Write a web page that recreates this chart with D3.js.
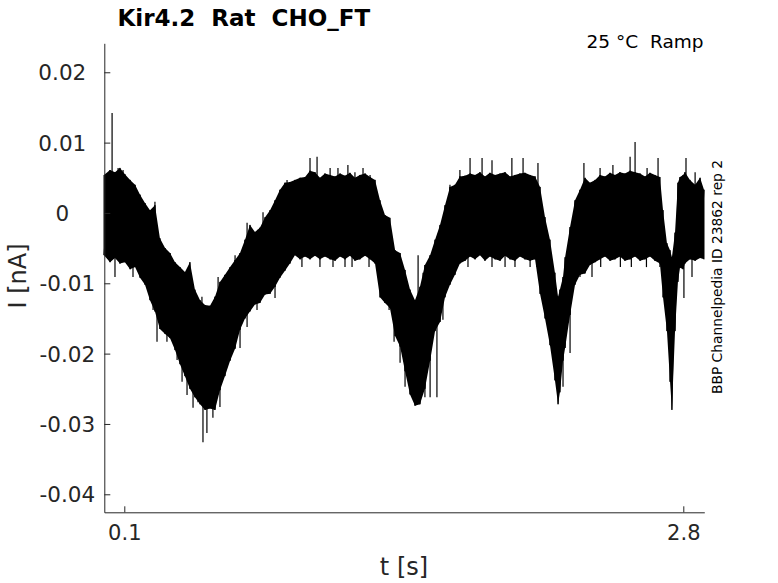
<!DOCTYPE html>
<html>
<head>
<meta charset="utf-8">
<script src="https://cdn.jsdelivr.net/npm/d3@7"></script>
<style>
  body { margin: 0; background: #fff; }
  text { font-family: "DejaVu Sans", sans-serif; fill: #262626; white-space: pre; }
</style>
</head>
<body>
<div id="vis"></div>
<script>
// trace: envelope of the noisy current (nA) against time (s)
var time = [0.002, 0.031, 0.055, 0.079, 0.103, 0.128, 0.152, 0.176, 0.200, 0.224,
  0.248, 0.272, 0.297, 0.321, 0.345, 0.369, 0.393, 0.417, 0.441, 0.466,
  0.490, 0.514, 0.538, 0.562, 0.586, 0.611, 0.635, 0.659, 0.683, 0.707,
  0.731, 0.755, 0.780, 0.804, 0.828, 0.852, 0.876, 0.900, 0.924, 0.949,
  0.973, 0.997, 1.021, 1.045, 1.069, 1.094, 1.118, 1.142, 1.166, 1.190,
  1.214, 1.238, 1.263, 1.287, 1.311, 1.335, 1.359, 1.383, 1.408, 1.432,
  1.456, 1.480, 1.504, 1.528, 1.552, 1.577, 1.601, 1.625, 1.649, 1.673,
  1.697, 1.721, 1.746, 1.770, 1.794, 1.818, 1.842, 1.866, 1.891, 1.915,
  1.939, 1.963, 1.987, 2.011, 2.035, 2.060, 2.084, 2.108, 2.132, 2.156,
  2.180, 2.195, 2.204, 2.219, 2.229, 2.253, 2.277, 2.301, 2.325, 2.349,
  2.374, 2.398, 2.422, 2.446, 2.470, 2.494, 2.518, 2.543, 2.567, 2.591,
  2.615, 2.639, 2.663, 2.687, 2.702, 2.721, 2.736, 2.745, 2.760, 2.774,
  2.784, 2.799, 2.808, 2.832, 2.857, 2.881, 2.900];

var upper = [0.0054, 0.0061, 0.0058, 0.0064, 0.0055, 0.0047, 0.0040, 0.0026, 0.0014, 0.0004,
  0.0011, -0.0036, -0.0050, -0.0057, -0.0070, -0.0077, -0.0084, -0.0070, -0.0109, -0.0124,
  -0.0131, -0.0132, -0.0119, -0.0098, -0.0088, -0.0077, -0.0067, -0.0057, -0.0038, -0.0017,
  -0.0027, -0.0021, -0.0006, 0.0004, 0.0018, 0.0033, 0.0043, 0.0044, 0.0047, 0.0050,
  0.0051, 0.0060, 0.0058, 0.0050, 0.0056, 0.0054, 0.0052, 0.0056, 0.0053, 0.0057,
  0.0050, 0.0054, 0.0056, 0.0051, 0.0047, 0.0018, -0.0003, -0.0007, -0.0053, -0.0057,
  -0.0081, -0.0109, -0.0124, -0.0105, -0.0074, -0.0060, -0.0038, -0.0017, 0.0011, 0.0037,
  0.0040, 0.0052, 0.0053, 0.0056, 0.0054, 0.0058, 0.0052, 0.0057, 0.0054, 0.0056,
  0.0058, 0.0052, 0.0054, 0.0056, 0.0057, 0.0054, 0.0052, 0.0037, -0.0006, -0.0038,
  -0.0085, -0.0119, -0.0109, -0.0091, -0.0063, -0.0020, 0.0018, 0.0033, 0.0050, 0.0043,
  0.0047, 0.0054, 0.0052, 0.0057, 0.0054, 0.0058, 0.0056, 0.0060, 0.0058, 0.0056,
  0.0052, 0.0057, 0.0054, 0.0051, 0.0004, -0.0043, -0.0053, -0.0063, -0.0028, 0.0043,
  0.0051, 0.0054, 0.0058, 0.0047, 0.0040, 0.0050, 0.0033];

var lower = [-0.0060, -0.0070, -0.0064, -0.0072, -0.0070, -0.0080, -0.0077, -0.0092, -0.0102, -0.0124,
  -0.0140, -0.0165, -0.0172, -0.0178, -0.0195, -0.0215, -0.0232, -0.0250, -0.0262, -0.0272,
  -0.0280, -0.0278, -0.0280, -0.0252, -0.0232, -0.0210, -0.0193, -0.0166, -0.0150, -0.0140,
  -0.0130, -0.0128, -0.0116, -0.0115, -0.0105, -0.0092, -0.0082, -0.0072, -0.0060, -0.0066,
  -0.0062, -0.0066, -0.0061, -0.0066, -0.0062, -0.0066, -0.0068, -0.0062, -0.0066, -0.0061,
  -0.0068, -0.0066, -0.0061, -0.0066, -0.0072, -0.0120, -0.0128, -0.0135, -0.0175, -0.0190,
  -0.0225, -0.0258, -0.0274, -0.0272, -0.0250, -0.0210, -0.0168, -0.0155, -0.0120, -0.0102,
  -0.0088, -0.0072, -0.0068, -0.0062, -0.0066, -0.0060, -0.0068, -0.0062, -0.0066, -0.0068,
  -0.0061, -0.0066, -0.0068, -0.0062, -0.0066, -0.0068, -0.0066, -0.0115, -0.0150, -0.0188,
  -0.0238, -0.0272, -0.0255, -0.0210, -0.0192, -0.0145, -0.0102, -0.0088, -0.0086, -0.0074,
  -0.0070, -0.0066, -0.0062, -0.0068, -0.0066, -0.0062, -0.0068, -0.0066, -0.0062, -0.0068,
  -0.0066, -0.0062, -0.0068, -0.0072, -0.0120, -0.0168, -0.0240, -0.0280, -0.0168, -0.0098,
  -0.0078, -0.0080, -0.0072, -0.0066, -0.0068, -0.0064, -0.0066];

// single samples that stick out of the band
var spikeTime = [0.041, 0.480, 1.519, 1.577, 2.567,
  0.070, 0.094, 0.118, 0.142, 0.171, 0.210, 0.248, 0.055, 0.142, 0.239,
  0.258, 0.306, 0.355, 0.379, 0.403, 0.432, 0.456, 0.499, 0.528, 0.562,
  0.475, 0.553, 0.586, 0.635, 0.693, 0.746, 0.659, 0.693, 0.770, 0.828,
  0.741, 0.886, 0.997, 1.031, 1.094, 1.132, 1.180, 1.214, 1.253, 1.287,
  0.958, 1.045, 1.108, 1.166, 1.200, 1.282, 1.330, 1.379, 1.403, 1.432,
  1.456, 1.528, 1.610, 1.552, 1.639, 1.683, 1.543, 1.673, 1.721, 1.770,
  1.828, 1.876, 1.972, 2.026, 2.098, 1.760, 1.876, 1.939, 1.987, 2.060,
  2.093, 2.320, 2.398, 2.460, 2.543, 2.625, 2.678, 2.813, 2.857, 2.301,
  2.359, 2.401, 2.496, 2.549, 2.622, 2.687, 2.803, 2.842, 2.253, 2.219];
var spikeValue = [0.0142, -0.0326, -0.0060, -0.0262, 0.0101,
  0.0064, 0.0061, 0.0047, 0.0037, 0.0021, 0.0007, 0.0016, -0.0091, -0.0091, -0.0138,
  -0.0183, -0.0183, -0.0209, -0.0240, -0.0259, -0.0277, -0.0269, -0.0313, -0.0291, -0.0276,
  -0.0119, -0.0091, -0.0091, -0.0060, -0.0014, -0.0024, -0.0192, -0.0162, 0.0001, -0.0121,
  -0.0138, 0.0047, 0.0078, 0.0080, 0.0064, 0.0064, 0.0068, 0.0058, 0.0064, 0.0054,
  -0.0077, -0.0077, -0.0077, -0.0077, -0.0077, -0.0077, -0.0077, -0.0138, -0.0183, -0.0213,
  -0.0247, -0.0262, -0.0262, -0.0262, -0.0152, -0.0091, -0.0085, 0.0040, 0.0061, 0.0078,
  0.0078, 0.0075, 0.0078, 0.0078, 0.0071, -0.0077, -0.0077, -0.0077, -0.0077, -0.0077,
  -0.0077, 0.0071, 0.0064, 0.0068, 0.0080, 0.0064, 0.0078, 0.0078, 0.0058, -0.0091,
  -0.0091, -0.0077, -0.0077, -0.0077, -0.0077, -0.0077, -0.0121, -0.0091, -0.0199, -0.0247];

var yTicks = [0.02, 0.01, 0, -0.01, -0.02, -0.03, -0.04];
var yTickLabels = ['0.02', '0.01', '0', '-0.01', '-0.02', '-0.03', '-0.04'];
var xTicks = [0.1, 2.8];
var xTickLabels = ['0.1', '2.8'];

var W = 778, H = 583;
var plot = {left: 104.3, right: 704.3, top: 43.3, bottom: 512.3};

svg = d3.select('#vis').append('svg')
  .attr('width', W)
  .attr('height', H);

var x = d3.scaleLinear().domain([0.0034, 2.9014]).range([plot.left, plot.right]);
var y = d3.scaleLinear().domain([-0.04256, 0.02412]).range([plot.bottom, plot.top]);

var pts = time.map(function(t, i) { return {t: t, hi: upper[i], lo: lower[i]}; });

// the band itself
svg.append('path')
  .datum(pts)
  .attr('fill', '#000')
  .attr('d', d3.area()
    .x(function(d) { return x(d.t); })
    .y0(function(d) { return y(d.lo); })
    .y1(function(d) { return y(d.hi); }));

// zigzag between the extremes gives the ragged edge
var zig = [];
pts.forEach(function(d) { zig.push([d.t, d.hi]); zig.push([d.t, d.lo]); });
svg.append('path')
  .datum(zig)
  .attr('fill', 'none')
  .attr('stroke', '#000')
  .attr('stroke-width', 1)
  .attr('d', d3.line()
    .x(function(d) { return x(d[0]); })
    .y(function(d) { return y(d[1]); }));

// spikes, drawn from the middle of the band out to the sample
var bis = d3.bisector(function(d) { return d.t; }).left;
svg.append('g').selectAll('line')
  .data(spikeTime)
  .enter().append('line')
  .attr('x1', function(d) { return x(d); })
  .attr('x2', function(d) { return x(d); })
  .attr('y1', function(d) {
    var p = pts[Math.min(bis(pts, d), pts.length - 1)];
    return y((p.hi + p.lo) / 2);
  })
  .attr('y2', function(d, i) { return y(spikeValue[i]); })
  .attr('stroke', '#000')
  .attr('stroke-width', 1.2);

// axes, ticks point inward like matlab
var yAxis = d3.axisLeft(y)
  .tickValues(yTicks)
  .tickSize(-6)
  .tickSizeOuter(0)
  .tickFormat(function(d, i) { return yTickLabels[i]; });

var gy = svg.append('g')
  .attr('transform', 'translate(' + plot.left + ',0)')
  .call(yAxis);
gy.select('.domain').attr('stroke', '#262626');
gy.selectAll('.tick line').attr('stroke', '#262626');
gy.selectAll('.tick text')
  .attr('font-size', 21.5)
  .attr('font-family', 'DejaVu Sans')
  .attr('fill', '#262626')
  .attr('text-anchor', 'middle')
  .attr('x', function(d) { return d < 0 ? -37 : -42; })
  .attr('dy', '0.35em');

var xAxis = d3.axisBottom(x)
  .tickValues(xTicks)
  .tickSize(-6)
  .tickSizeOuter(0)
  .tickFormat(function(d, i) { return xTickLabels[i]; });

var gx = svg.append('g')
  .attr('transform', 'translate(0,' + plot.bottom + ')')
  .call(xAxis);
gx.select('.domain').attr('stroke', '#262626');
gx.selectAll('.tick line').attr('stroke', '#262626');
gx.selectAll('.tick text')
  .attr('font-size', 21)
  .attr('font-family', 'DejaVu Sans')
  .attr('fill', '#262626')
  .attr('y', 28)
  .attr('dy', 0);

// labels
svg.append('text')
  .attr('x', 404).attr('y', 575)
  .attr('text-anchor', 'middle')
  .attr('font-size', 24)
  .text('t [s]');

svg.append('text')
  .attr('transform', 'translate(26,276) rotate(-90)')
  .attr('text-anchor', 'middle')
  .attr('font-size', 24)
  .text('I [nA]');

svg.append('text')
  .attr('x', 117.5).attr('y', 26)
  .attr('font-size', 23)
  .attr('font-weight', 'bold')
  .style('fill', '#000')
  .text('Kir4.2  Rat  CHO_FT');

svg.append('text')
  .attr('x', 703.5).attr('y', 47.5)
  .attr('text-anchor', 'end')
  .attr('font-size', 18.5)
  .style('fill', '#000')
  .text('25 °C  Ramp');

svg.append('text')
  .attr('transform', 'translate(722,277) rotate(-90)')
  .attr('text-anchor', 'middle')
  .attr('font-size', 13.8)
  .style('fill', '#000')
  .text('BBP Channelpedia ID 23862 rep 2');
</script>
</body>
</html>
